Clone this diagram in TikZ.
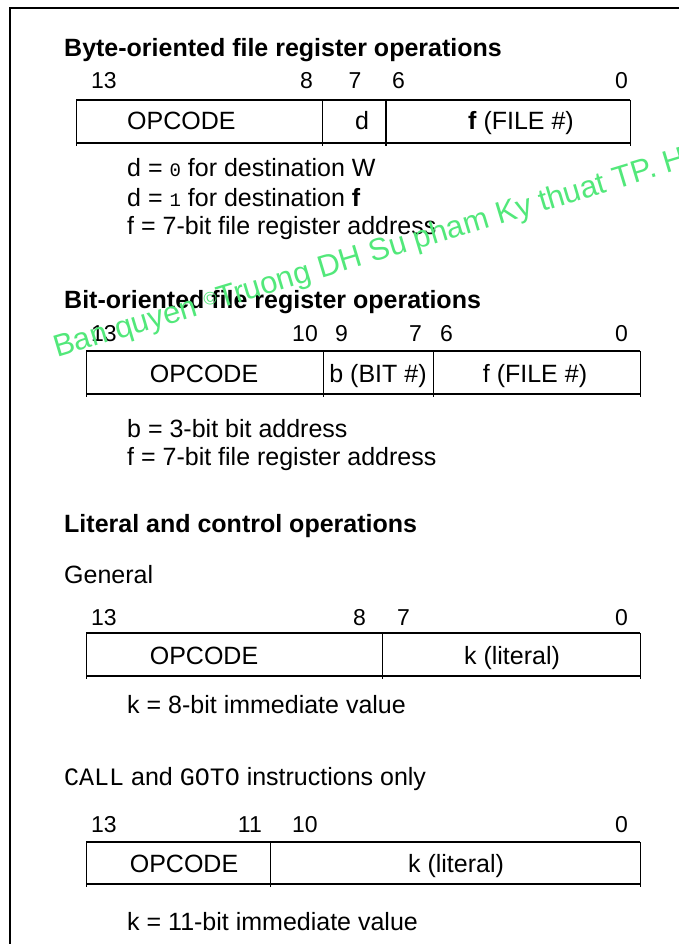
\documentclass[tikz,border=0pt]{standalone}
\usepackage{fontspec}
\setmainfont{Liberation Sans}
\newfontfamily\monofont{Liberation Mono}
\definecolor{wmgreen}{RGB}{82,232,122}
\tikzset{
  txt/.style={anchor=base west, inner sep=0pt, font=\fontsize{25}{28}\selectfont},
  ttl/.style={anchor=base west, inner sep=0pt, font=\fontsize{25}{28}\selectfont\bfseries},
  bitL/.style={anchor=base west, inner sep=0pt, font=\fontsize{23}{28}\selectfont},
  bitR/.style={anchor=base east, inner sep=0pt, font=\fontsize{23}{28}\selectfont},
  bitC/.style={anchor=base, inner sep=0pt, font=\fontsize{23}{28}\selectfont},
  celltxt/.style={anchor=base, inner sep=0pt, font=\fontsize{25}{28}\selectfont},
  frameline/.style={line width=2pt, black},
  boxline/.style={line width=1.3pt, black},
  divline/.style={line width=1pt, black},
  thickdiv/.style={line width=2.4pt, black},
  wmark/.style={anchor=base west, inner sep=0pt, text=wmgreen, font=\fontsize{31}{34}\selectfont}
}
\newcommand{\smallmono}[1]{{\monofont\fontsize{19}{20}\selectfont #1}}
\newcommand{\capsmono}[1]{{\monofont\fontsize{25}{26}\selectfont #1}}
\begin{document}
\begin{tikzpicture}[x=1pt,y=-1pt]
\useasboundingbox (0,0) rectangle (679,944);
\fill[white] (0,0) rectangle (679,944);
% outer frame (top and left edges only)
\draw[frameline] (10,944) -- (10,8) -- (679,8);

% ---------- byte-oriented ----------
\node[ttl] (t1) at (64,57) {Byte-oriented file register operations};
\node[bitL] (a13) at (91,89) {13};
\node[bitR] (a8) at (313,89) {8};
\node[bitC] (a7) at (355,89) {7};
\node[bitL] (a6) at (392,89) {6};
\node[bitR] (a0) at (628,89) {0};
\draw[boxline] (76,100) -- (630,100) (76,143) -- (630,143);
\draw[divline] (76,100) -- (76,146) (630,100) -- (630,146) (322,100) -- (322,146);
\draw[thickdiv] (386,100) -- (386,146);
\node[txt] (op1) at (127,130) {OPCODE};
\node[celltxt] (d1) at (362,130) {d};
\node[txt] (f1) at (468,130) {\textbf{f} (FILE \#)};
\node[txt] (n1a) at (127,177) {d = \smallmono{0} for destination W};
\node[txt] (n1b) at (127,206) {d = \smallmono{1} for destination \textbf{f}};
\node[txt] (n1c) at (127,234) {f = 7-bit file register address};

% ---------- bit-oriented ----------
\node[ttl] (t2) at (64,308) {Bit-oriented file register operations};
\node[bitL] (b13) at (91,341) {13};
\node[bitR] (b10) at (318,341) {10};
\node[bitL] (b9) at (335,341) {9};
\node[bitR] (b7) at (422,341) {7};
\node[bitL] (b6) at (440,341) {6};
\node[bitR] (b0) at (628,341) {0};
\draw[boxline] (86,351) -- (640,351) (86,394) -- (640,394);
\draw[divline] (86,351) -- (86,397) (640,351) -- (640,397) (323,351) -- (323,397) (433,351) -- (433,397);
\node[celltxt] (op2) at (204,382) {OPCODE};
\node[celltxt] (bb2) at (378,382) {b (BIT \#)};
\node[celltxt] (f2) at (535,382) {f (FILE \#)};
\node[txt] (n2a) at (127,437) {b = 3-bit bit address};
\node[txt] (n2b) at (127,465) {f = 7-bit file register address};

% ---------- literal and control ----------
\node[ttl] (t3) at (64,532) {Literal and control operations};
\node[txt] (g3) at (64,583) {General};
\node[bitL] (c13) at (91,625) {13};
\node[bitR] (c8) at (366,625) {8};
\node[bitL] (c7) at (397,625) {7};
\node[bitR] (c0) at (628,625) {0};
\draw[boxline] (86,633) -- (640,633) (86,676) -- (640,676);
\draw[divline] (86,633) -- (86,679) (640,633) -- (640,679) (382,633) -- (382,679);
\node[celltxt] (op3) at (204,664) {OPCODE};
\node[celltxt] (k3) at (512,664) {k (literal)};
\node[txt] (n3) at (127,713) {k = 8-bit immediate value};

% ---------- CALL / GOTO ----------
\node[txt] (t4) at (64,785) {\capsmono{CALL} and \capsmono{GOTO} instructions only};
\node[bitL] (e13) at (91,832) {13};
\node[bitR] (e11) at (262,832) {11};
\node[bitL] (e10) at (292,832) {10};
\node[bitR] (e0) at (628,832) {0};
\draw[boxline] (86,842) -- (640,842) (86,884) -- (640,884);
\draw[divline] (86,842) -- (86,887) (640,842) -- (640,887) (270,842) -- (270,887);
\node[celltxt] (op4) at (184,872) {OPCODE};
\node[celltxt] (k4) at (456,872) {k (literal)};
\node[txt] (n4) at (127,930) {k = 11-bit immediate value};

% ---------- watermark ----------
\node[wmark, rotate=16.8] (wm) at (57,358) {Ban quyen {\fontsize{18}{20}\selectfont\raisebox{6pt}{©}}Truong DH Su pham Ky thuat TP. H};
\end{tikzpicture}
\end{document}
